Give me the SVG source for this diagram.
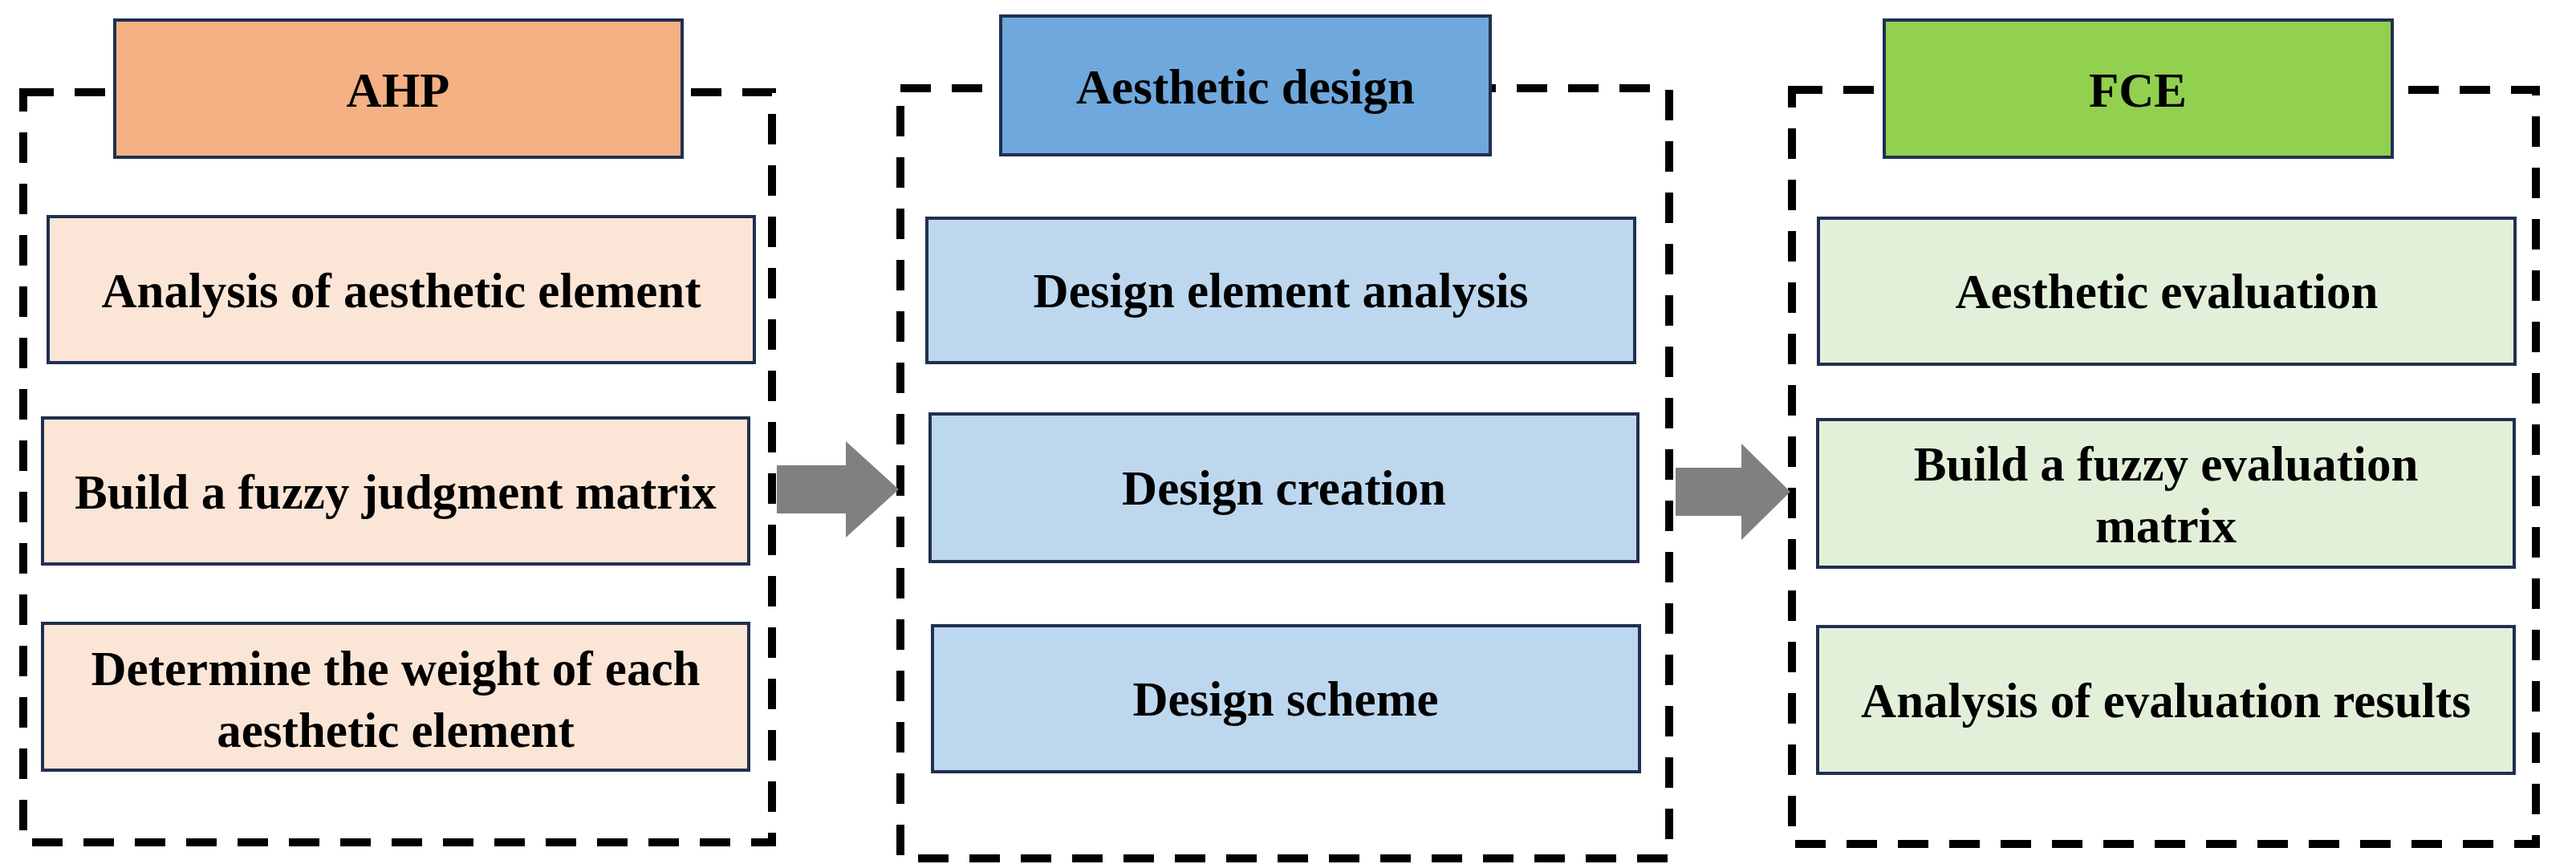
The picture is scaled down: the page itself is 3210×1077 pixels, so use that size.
<svg xmlns="http://www.w3.org/2000/svg" width="3210" height="1077" viewBox="0 0 3210 1077">
<style>
.dash{fill:none;stroke:#000;stroke-width:10;stroke-dasharray:38 26}
.box{stroke:#203050;stroke-width:4}
.t{font-family:"Liberation Serif","Times New Roman",serif;font-weight:bold;font-size:61px;fill:#000;text-anchor:middle;dominant-baseline:central}
.arr{fill:#808080}
</style>
<rect width="3210" height="1077" fill="#fff"/>
<g id="frames">
<rect class="dash" x="29" y="115" width="933" height="935"/>
<rect class="dash" x="1122" y="110" width="958" height="960"/>
<rect class="dash" x="2233" y="112" width="927" height="940"/>
</g>
<g id="connectors">
<polygon class="arr" points="968,580 1054,580 1054,550 1120,610 1054,670 1054,640 968,640"/>
<polygon class="arr" points="2088,583 2170,583 2170,553 2231,613 2170,673 2170,643 2088,643"/>
</g>
<g id="ahp"><rect class="box" x="143" y="25" width="707" height="171" fill="#F4B183"/><text class="t" x="496" y="112">AHP</text></g>
<g id="ahp1"><rect class="box" x="60" y="270" width="880" height="182" fill="#FBE5D6"/><text class="t" x="500" y="362">Analysis of aesthetic element</text></g>
<g id="ahp2"><rect class="box" x="53" y="521" width="880" height="182" fill="#FBE5D6"/><text class="t" x="493" y="613">Build a fuzzy judgment matrix</text></g>
<g id="ahp3"><rect class="box" x="53" y="777" width="880" height="183" fill="#FBE5D6"/><text class="t" x="493" y="833">Determine the weight of each</text><text class="t" x="493" y="910">aesthetic element</text></g>
<g id="ad"><rect class="box" x="1247" y="20" width="610" height="173" fill="#6FA8DC"/><text class="t" x="1552" y="108">Aesthetic design</text></g>
<g id="ad1"><rect class="box" x="1155" y="272" width="882" height="180" fill="#BDD7EE"/><text class="t" x="1596" y="362">Design element analysis</text></g>
<g id="ad2"><rect class="box" x="1159" y="516" width="882" height="184" fill="#BDD7EE"/><text class="t" x="1600" y="608">Design creation</text></g>
<g id="ad3"><rect class="box" x="1162" y="780" width="881" height="182" fill="#BDD7EE"/><text class="t" x="1602" y="871">Design scheme</text></g>
<g id="fce"><rect class="box" x="2348" y="25" width="633" height="171" fill="#92D050"/><text class="t" x="2664" y="112">FCE</text></g>
<g id="fce1"><rect class="box" x="2266" y="272" width="868" height="182" fill="#E2F0D9"/><text class="t" x="2700" y="363">Aesthetic evaluation</text></g>
<g id="fce2"><rect class="box" x="2265" y="523" width="868" height="184" fill="#E2F0D9"/><text class="t" x="2699" y="578">Build a fuzzy evaluation</text><text class="t" x="2699" y="655">matrix</text></g>
<g id="fce3"><rect class="box" x="2265" y="781" width="868" height="183" fill="#E2F0D9"/><text class="t" x="2699" y="873">Analysis of evaluation results</text></g>
</svg>
